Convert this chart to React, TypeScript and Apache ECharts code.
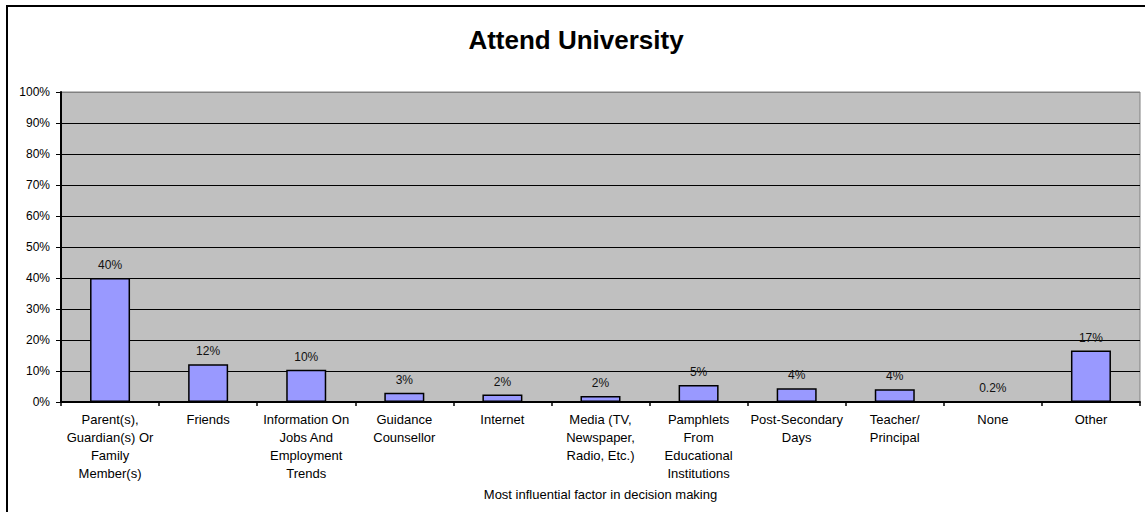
import React, { useEffect, useRef } from "react";
import * as echarts from "echarts";

const categories = [
  "Parent(s),\nGuardian(s) Or\nFamily\nMember(s)",
  "Friends",
  "Information On\nJobs And\nEmployment\nTrends",
  "Guidance\nCounsellor",
  "Internet",
  "Media (TV,\nNewspaper,\nRadio, Etc.)",
  "Pamphlets\nFrom\nEducational\nInstitutions",
  "Post-Secondary\nDays",
  "Teacher/\nPrincipal",
  "None",
  "Other",
];
const values = [40, 12.2, 10.4, 3, 2.4, 1.9, 5.45, 4.4, 4.1, 0.2, 16.6];
const yTicks = [0, 10, 20, 30, 40, 50, 60, 70, 80, 90, 100];

const FONT = "Arial, 'Liberation Sans', sans-serif";

export default function App() {
  const ref = useRef<HTMLDivElement>(null);
  useEffect(() => {
    document.body.style.margin = "0";
    const chart = echarts.init(ref.current!, null, { renderer: "svg" });
    const gridColors = yTicks.map((t) => (t === 100 ? "#808080" : "#000000"));
    chart.setOption({
      animation: false,
      backgroundColor: "#ffffff",
      title: {
        text: "Attend University",
        left: 571,
        top: 22,
        textAlign: "center",
        textStyle: { fontFamily: FONT, fontSize: 26, fontWeight: "bold", color: "#000" },
      },
      graphic: [
        {
          type: "rect",
          shape: { x: 7, y: 6, width: 1160, height: 540 },
          style: { fill: "none", stroke: "#000", lineWidth: 2 },
          silent: true,
        },
      ],
      grid: {
        left: 61,
        top: 92,
        right: 5,
        bottom: 110,
        show: true,
        backgroundColor: "#C0C0C0",
        borderColor: "#808080",
        borderWidth: 1,
      },
      xAxis: {
        type: "category",
        data: categories,
        name: "Most influential factor in decision making",
        nameLocation: "middle",
        nameGap: 86,
        nameTextStyle: { fontFamily: FONT, fontSize: 13, color: "#000" },
        axisLine: { lineStyle: { color: "#000", width: 2 } },
        axisTick: { show: true, length: 4, lineStyle: { color: "#000", width: 1.5 } },
        axisLabel: {
          interval: 0,
          fontFamily: FONT,
          fontSize: 13,
          color: "#000",
          lineHeight: 18,
          margin: 8,
        },
      },
      yAxis: {
        type: "value",
        min: 0,
        max: 100,
        interval: 10,
        axisLine: { show: true, lineStyle: { color: "#000", width: 2 } },
        axisTick: { show: true, length: 5, lineStyle: { color: "#000", width: 1 } },
        axisLabel: {
          formatter: (v: number) => v + "%",
          fontFamily: FONT,
          fontSize: 12,
          color: "#000",
          margin: 11,
        },
        splitLine: { show: true, lineStyle: { color: gridColors, width: 1 } },
      },
      series: [
        {
          type: "bar",
          data: values,
          barWidth: 40,
          itemStyle: { color: "#9999FF", borderColor: "#000", borderWidth: 1.5 },
          label: {
            show: true,
            position: "top",
            distance: 7,
            fontFamily: FONT,
            fontSize: 12,
            color: "#111",
            formatter: (p: any) =>
              p.value < 1 ? p.value.toFixed(1) + "%" : Math.round(p.value) + "%",
          },
        },
      ],
    });
    return () => chart.dispose();
  }, []);
  return <div ref={ref} style={{ width: 1145, height: 512 }} />;
}
